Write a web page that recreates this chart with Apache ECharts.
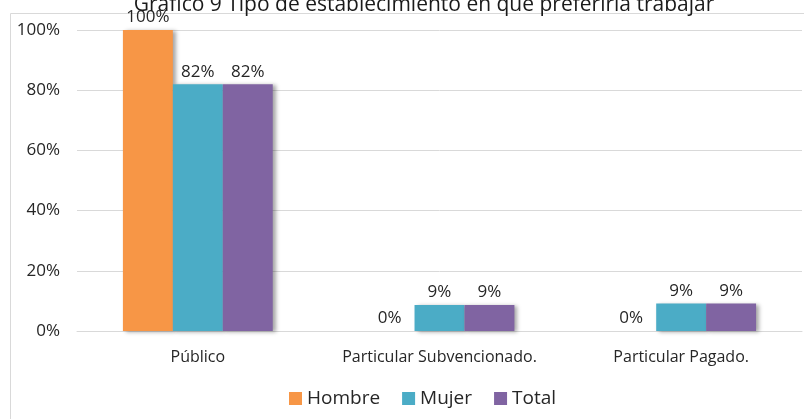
<!DOCTYPE html>
<html>
<head>
    <meta charset="utf-8">
    <title>Gráfico 9</title>
    <script src="https://cdn.jsdelivr.net/npm/echarts@6/dist/echarts.min.js"></script>
    <style type="text/css">
        body{ margin:0; background:#fff; }
    </style>
</head>
<body>
<div id="main" style="width:804px;height:419px;"></div>

<script type="text/javascript">
    // datos
    var categorias = ['Público', 'Particular Subvencionado.', 'Particular Pagado.'];
    var hombre = [100, 0, 0];
    var mujer = [82, 8.6, 9.1];
    var total = [82, 8.6, 9.1];
    var colores = ['#F79646', '#4BACC6', '#8064A2'];

    var fuente = '"Open Sans", "Noto Sans", sans-serif';

    function serie(nombre, datos, color) {
        return {
            name: nombre,
            type: 'bar',
            data: datos,
            barGap: '0%',
            barCategoryGap: '38%',
            itemStyle: {
                color: color,
                shadowColor: 'rgba(0,0,0,0.35)',
                shadowBlur: 4,
                shadowOffsetX: 3,
                shadowOffsetY: 1
            },
            label: {
                show: true,
                position: 'top',
                distance: 4,
                color: '#262626',
                fontFamily: fuente,
                fontSize: 17,
                formatter: function (p) { return Math.round(p.value) + '%'; }
            }
        };
    }

    var myChart = echarts.init(document.getElementById('main'));
    myChart.setOption({
        animation: false,
        title: {
            text: 'Gráfico 9 Tipo de establecimiento en que preferiría trabajar',
            left: 419,
            textAlign: 'center',
            top: -10,
            textStyle: { fontFamily: fuente, fontSize: 21, fontWeight: 'normal', color: '#1a1a1a' }
        },
        graphic: [{
            type: 'rect',
            shape: { x: 10.5, y: 13.5, width: 800, height: 420 },
            style: { fill: 'none', stroke: '#d9d9d9', lineWidth: 1 },
            silent: true
        }],
        legend: {
            data: ['Hombre', 'Mujer', 'Total'],
            bottom: 6,
            left: 284,
            itemWidth: 13,
            itemHeight: 13,
            itemGap: 22,
            icon: 'rect',
            textStyle: { fontFamily: fuente, fontSize: 19, color: '#262626' }
        },
        grid: { left: 77, right: 2, top: 30, bottom: 88, containLabel: false },
        xAxis: {
            type: 'category',
            data: categorias,
            axisLine: { lineStyle: { color: '#d9d9d9' } },
            axisTick: { show: false },
            axisLabel: {
                interval: 0,
                hideOverlap: false,
                margin: 18,
                color: '#262626',
                fontFamily: fuente,
                fontSize: 16
            }
        },
        yAxis: {
            type: 'value',
            min: 0,
            max: 100,
            interval: 20,
            axisLine: { show: false },
            axisTick: { show: false },
            splitLine: { lineStyle: { color: '#d9d9d9' } },
            axisLabel: {
                margin: 17,
                color: '#262626',
                fontFamily: fuente,
                fontSize: 17,
                formatter: '{value}%'
            }
        },
        series: [
            serie('Hombre', hombre, colores[0]),
            serie('Mujer', mujer, colores[1]),
            serie('Total', total, colores[2])
        ]
    });
</script>
</body>
</html>
